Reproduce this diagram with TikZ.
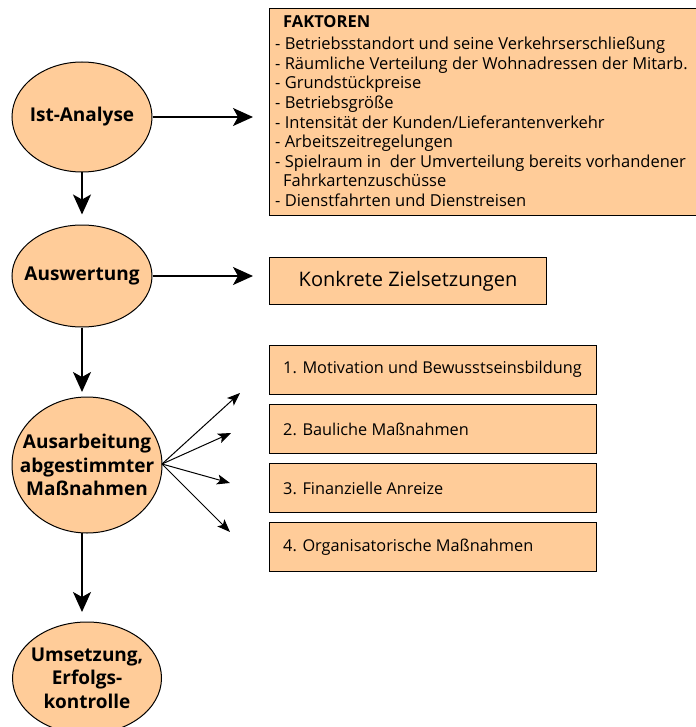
\documentclass[tikz,border=0pt]{standalone}
\usepackage{fontspec}
\setmainfont{Open Sans}
\usetikzlibrary{arrows.meta,shapes.geometric}
\definecolor{peach}{HTML}{FFCC99}
\begin{document}
\begin{tikzpicture}[x=1pt,y=-1pt,
  stage/.style={ellipse,draw,fill=peach,line width=1pt,inner sep=0pt},
  stagetext/.style={align=center,font=\fontsize{19}{23.5}\selectfont\bfseries,inner sep=0pt},
  box/.style={draw,fill=peach,line width=1pt,inner sep=0pt,anchor=north west},
  boxtext/.style={font=\fontsize{16.3}{19}\selectfont,anchor=west,inner sep=0pt},
  bigarrow/.style={line width=1.6pt,-{Stealth[length=20pt,width=18pt,inset=5pt]}},
  fanarrow/.style={line width=1pt,-{Stealth[length=13pt,width=10pt,inset=3pt]}}]
\useasboundingbox (0,0) rectangle (695,727);

% ellipses
\node[stage,minimum width=140,minimum height=110] (ist) at (82,117) {};
\node[stagetext] (istt) at (ist) {Ist-Analyse};
\node[stage,minimum width=140,minimum height=102] (ausw) at (82,276) {};
\node[stagetext] (auswt) at (ausw) {Auswertung};
\node[stage,minimum width=150,minimum height=136] (ausarb) at (87,465) {};
\node[stagetext] (ausarbt) at (ausarb) {Ausarbeitung\\abgestimmter\\Maßnahmen};
\node[stage,minimum width=149,minimum height=112] (ums) at (87,678) {};
\node[stagetext] (umst) at (ums) {Umsetzung,\\Erfolgs-\\kontrolle};

% factor box
\node[box,minimum width=430,minimum height=207] (fakt) at (269,8) {};
\node[anchor=north west,align=left,inner sep=0pt,
      font=\fontsize{16.5}{19.6}\selectfont] (faktt) at (275,15)
 {\hspace*{8pt}\textbf{FAKTOREN}\\[3pt]
  - Betriebsstandort und seine Verkehrserschließung\\
  - Räumliche Verteilung der Wohnadressen der Mitarb.\\
  - Grundstückpreise\\
  - Betriebsgröße\\
  - Intensität der Kunden/Lieferantenverkehr\\
  - Arbeitszeitregelungen\\
  - Spielraum in~ der Umverteilung bereits vorhandener\\
  \hspace*{8pt}Fahrkartenzuschüsse\\
  - Dienstfahrten und Dienstreisen};

% goal box
\node[box,minimum width=277,minimum height=47] (ziel) at (269,257) {};
\node[font=\fontsize{20}{24}\selectfont,inner sep=0pt] (zielt) at (ziel) {Konkrete Zielsetzungen};

% measure boxes
\node[box,minimum width=327,minimum height=49] (m1) at (269,345) {};
\node[boxtext] (m1t) at (283,369.5) {1. Motivation und Bewusstseinsbildung};
\node[box,minimum width=327,minimum height=49] (m2) at (269,404) {};
\node[boxtext] (m2t) at (283,429.5) {2. Bauliche Maßnahmen};
\node[box,minimum width=327,minimum height=49] (m3) at (269,463) {};
\node[boxtext] (m3t) at (283,488.5) {3. Finanzielle Anreize};
\node[box,minimum width=327,minimum height=49] (m4) at (269,522) {};
\node[boxtext] (m4t) at (283,547.5) {4. Organisatorische Maßnahmen};

% connectors
\coordinate (a1) at (253,117);
\coordinate (a2) at (253,276);
\draw[bigarrow] (ist.east) -- (a1);
\draw[bigarrow] (ausw.east) -- (a2);
\draw[bigarrow,shorten >=10pt] (ist.south) -- (ausw.north);
\coordinate (d2) at (82,392);
\coordinate (d3s) at (82,533);
\coordinate (d3) at (82,612);
\draw[bigarrow] (ausw.south) -- (d2);
\draw[bigarrow] (d3s) -- (d3);

\coordinate (f0) at (162,464);
\coordinate (f1) at (240,393);
\coordinate (f2) at (231,433);
\coordinate (f3) at (230,483);
\coordinate (f4) at (230,532);
\draw[fanarrow] (f0) -- (f1);
\draw[fanarrow] (f0) -- (f2);
\draw[fanarrow] (f0) -- (f3);
\draw[fanarrow] (f0) -- (f4);
\end{tikzpicture}
\end{document}
